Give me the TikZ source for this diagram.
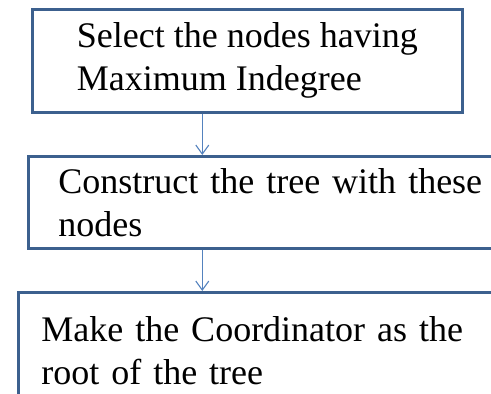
\documentclass[tikz,border=0pt]{standalone}
\usepackage{fontspec}
\setmainfont{Liberation Serif}
\usepackage{xcolor}
\usepackage{tikz}
\usetikzlibrary{arrows.meta}
\definecolor{boxblue}{RGB}{60,96,142}
\definecolor{arrowblue}{RGB}{84,130,190}

\begin{document}
\begin{tikzpicture}[x=1pt,y=-1pt,%
% common options for the boxes:
stepbox/.style = {draw=boxblue, line width=2.6pt, align=left, anchor=north west,
            inner ysep=0pt, font=\fontsize{36}{43}\selectfont},
% common options for the arrows:
flow/.style = {draw=arrowblue, line width=1.1pt,
            -{Straight Barb[length=9pt,width=13pt,line width=1.1pt]}}]
\useasboundingbox (0,0) rectangle (491,394);
\clip (0,0) rectangle (491,394);
\node[stepbox,inner xsep=0pt,minimum width=430pt,minimum height=103pt] (S1) at (31,8)
  {Select the nodes having\\Maximum Indegree};
\node[stepbox,text width=470pt,inner xsep=30pt,minimum height=92pt] (S2) at (27,155)
  {Construct the tree with these\\nodes};
\node[stepbox,text width=480pt,inner xsep=23pt,minimum height=116pt] (S3) at (17,291)
  {Make the Coordinator as the\\root of the tree};
\draw[flow] ([xshift=-45pt]S1.south) to ([xshift=-45pt]S1.south |- S2.north);
\draw[flow] ([xshift=-45pt]S1.south |- S2.south) to ([xshift=-45pt]S1.south |- S3.north);
\end{tikzpicture}
\end{document}
